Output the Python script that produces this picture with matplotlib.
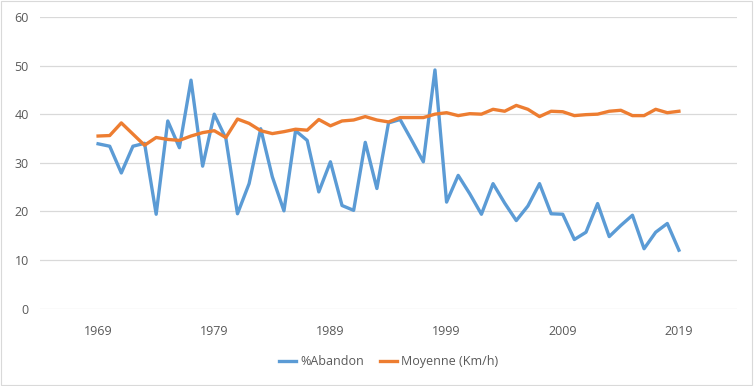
import numpy as np
import matplotlib

matplotlib.use("Agg")
import matplotlib.pyplot as plt
from matplotlib.patches import Rectangle

plt.rcParams["font.family"] = ["Open Sans", "DejaVu Sans"]

# années 1969 -> 2019
years = list(range(1969, 2020))

# % d'abandon par année
abandon = [33.9, 33.4, 27.9, 33.4, 34.0, 19.4, 38.6, 33.1, 47.0, 29.3,
           40.0, 35.0, 19.5, 25.7, 37.0, 27.1, 20.1, 36.6, 34.6, 24.0,
           30.2, 21.2, 20.2, 34.2, 24.7, 38.2, 38.9, 34.6, 30.2, 49.1,
           21.9, 27.4, 23.6, 19.4, 25.7, 21.7, 18.1, 21.1, 25.7, 19.5,
           19.4, 14.2, 15.7, 21.6, 14.8, 17.1, 19.2, 12.3, 15.7, 17.5,
           12.0]

# vitesse moyenne (km/h)
moyenne = [35.5, 35.6, 38.2, 35.9, 33.6, 35.2, 34.8, 34.6, 35.5, 36.2,
           36.6, 35.2, 39.0, 38.1, 36.6, 36.0, 36.4, 36.9, 36.7, 38.9,
           37.6, 38.6, 38.8, 39.5, 38.8, 38.4, 39.3, 39.3, 39.3, 40.0,
           40.3, 39.7, 40.1, 40.0, 41.0, 40.6, 41.8, 41.0, 39.5, 40.6,
           40.5, 39.7, 39.9, 40.0, 40.6, 40.8, 39.7, 39.7, 41.0, 40.3,
           40.6]

xticks = [1969, 1979, 1989, 1999, 2009, 2019]
yticks = [0, 10, 20, 30, 40, 50, 60]

BLUE = "#5B9BD5"
ORANGE = "#ED7D31"
GRID = "#D9D9D9"
TXT = "#595959"

fig = plt.figure(figsize=(7.54, 3.86), dpi=100)
ax = fig.add_axes([40 / 754, 1 - 308.5 / 386, 697 / 754, 291.5 / 386])

ax.plot(years, abandon, color=BLUE, lw=2.4, label="%Abandon", solid_joinstyle="round")
ax.plot(years, moyenne, color=ORANGE, lw=2.4, label="Moyenne (Km/h)", solid_joinstyle="round")

ax.set_xlim(1964, 2024)
ax.set_ylim(0, 60)
ax.set_xticks(xticks)
ax.set_yticks(yticks)
ax.grid(axis="y", color=GRID, lw=0.9)
ax.set_axisbelow(True)
for s in ax.spines.values():
    s.set_visible(False)
ax.tick_params(axis="both", length=0, labelsize=9, labelcolor=TXT)
ax.tick_params(axis="x", pad=12)
ax.tick_params(axis="y", pad=8)

leg = ax.legend(loc="center", bbox_to_anchor=(0.5, -0.182), ncol=2, frameon=False,
                fontsize=9, handlelength=1.4, handletextpad=0.3, columnspacing=1.3)
for t in leg.get_texts():
    t.set_color(TXT)

# bordure du cadre
fig.patches.append(Rectangle((0.001, 0.002), 0.997, 0.996, transform=fig.transFigure,
                             fill=False, edgecolor=GRID, lw=0.8))

fig.savefig("out.png", dpi=100)
